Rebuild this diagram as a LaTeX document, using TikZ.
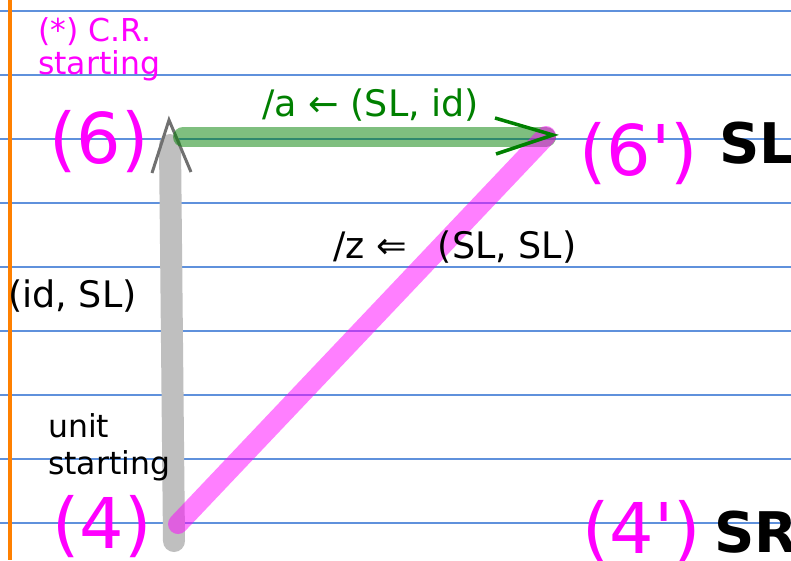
\documentclass[tikz,border=0pt]{standalone}
\usepackage{fontspec}
\setmainfont{DejaVu Sans}[Ligatures=TeXOff]
\definecolor{ruleblue}{RGB}{95,145,220}
\definecolor{marginorange}{RGB}{255,128,0}
\definecolor{darkgreen}{RGB}{0,128,0}
\definecolor{mag}{RGB}{255,0,255}
\definecolor{tipgray}{RGB}{112,112,112}
\begin{document}
\begin{tikzpicture}[x=1pt,y=-1pt,
  rule/.style={draw=ruleblue,line width=1.2pt},
  marginline/.style={draw=marginorange,line width=3.5pt},
  lbl/.style={inner sep=0pt,anchor=base west},
  small/.style={lbl,font=\fontsize{31.5pt}{34pt}\selectfont},
  mid/.style={lbl,font=\fontsize{36.5pt}{40pt}\selectfont},
  big/.style={lbl,text=mag,font=\fontsize{70pt}{74pt}\selectfont},
  side/.style={lbl,font=\fontsize{56pt}{60pt}\selectfont\bfseries},
  grayedge/.style={draw=gray!50,line width=22pt,line cap=round},
  greenedge/.style={draw=darkgreen,draw opacity=0.5,line width=20pt,line cap=round},
  magedge/.style={draw=mag,draw opacity=0.5,line width=20pt,line cap=round},
  graytip/.style={draw=tipgray,line width=3pt},
  greentip/.style={draw=darkgreen,line width=3.5pt}]
\useasboundingbox (0,0) rectangle (791,560);
\clip (0,0) rectangle (791,560);
\fill[white] (0,0) rectangle (791,560);
\foreach \y in {11,75,139,203,267,331,395,459,523}
  \draw[rule] (0,\y) -- (791,\y);
\draw[marginline] (10,0) -- (10,560);

% connector end points
\coordinate (g4) at (174,541);
\coordinate (g6) at (170,145);
\coordinate (e6) at (183,137);
\coordinate (e6p) at (546,137);
\coordinate (m4) at (178,524);
\coordinate (m6p) at (546,136);
\coordinate (gt1) at (152,173);
\coordinate (gt2) at (169,120);
\coordinate (gt3) at (191,172);
\coordinate (ht1) at (495,118);
\coordinate (ht2) at (553,135);
\coordinate (ht3) at (496,154);

\draw[grayedge] (g4) -- (g6);
\draw[graytip] (gt1) -- (gt2) -- (gt3);
\draw[greenedge] (e6) -- (e6p);
\draw[magedge] (m4) -- (m6p);
\draw[greentip] (ht1) -- (ht2) -- (ht3);

% labels
\node[small,text=mag] (cr1) at (38,41) {(*) C.R.};
\node[small,text=mag] (cr2) at (38,74) {starting};
\node[big] (n6) at (49,163) {(6)};
\node[big] (n6p) at (579,175) {(6')};
\node[side] (sl) at (719,163) {SL};
\node[big] (n4) at (52,548) {(4)};
\node[big] (n4p) at (582,553) {(4')};
\node[side] (sr) at (714,552) {SR};
\node[small] (unit) at (48,437) {unit};
\node[small] (ust) at (48,474) {starting};
\node[mid] (idsl) at (8,307) {(id, SL)};
\node[mid,text=darkgreen] (alab) at (262,116) {/a ← (SL, id)};
\node[mid] (zlab) at (333,258) {/z ⇐\hspace{0.85em}(SL, SL)};
\end{tikzpicture}
\end{document}
